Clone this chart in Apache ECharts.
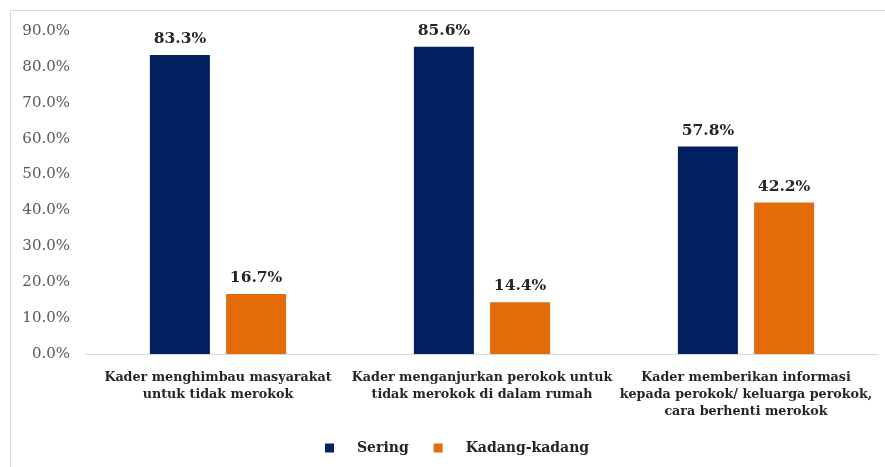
<!DOCTYPE html>
<html><head><meta charset="utf-8">
<script src="https://cdn.jsdelivr.net/npm/echarts@6/dist/echarts.min.js"></script>
<style>html,body{margin:0;padding:0;background:#fff}#c{width:885px;height:467px}</style>
</head><body><div id="c"></div>
<script>
const categories = [
  "Kader menghimbau masyarakat\nuntuk tidak merokok",
  "Kader menganjurkan perokok untuk\ntidak merokok di dalam rumah",
  "Kader memberikan informasi\nkepada perokok/ keluarga perokok,\ncara berhenti merokok"
];
const sering = [83.3, 85.6, 57.8];
const kadang = [16.7, 14.4, 42.2];
const seriesNames = ["Sering", "Kadang-kadang"];
const FONT = "DejaVu Serif";
const chart = echarts.init(document.getElementById('c'));
const lbl = {show:true, position:'top', distance:8, formatter:p=>p.value.toFixed(1)+'%', fontFamily:FONT, fontWeight:'bold', fontSize:15.5, color:'#262626'};
chart.setOption({
  animation:false,
  graphic:[{type:'rect', shape:{x:10.5,y:10.5,width:880,height:470}, style:{fill:'none', stroke:'#d9d9d9', lineWidth:1}, silent:true}],
  grid:{left:86, right:7, top:31, bottom:113},
  legend:{data:seriesNames, left:320, top:436, itemWidth:9, itemHeight:9, itemGap:25, icon:'rect',
    textStyle:{fontFamily:FONT, fontWeight:'bold', fontSize:14, color:'#262626', padding:[0,0,0,18]}},
  xAxis:{type:'category', data:categories,
    axisLine:{lineStyle:{color:'#d9d9d9'}}, axisTick:{show:false},
    axisLabel:{interval:0, margin:15, fontFamily:FONT, fontWeight:'bold', fontSize:12.7, color:'#262626', lineHeight:17}},
  yAxis:{type:'value', min:0, max:90, interval:10,
    axisLabel:{formatter:v=>v.toFixed(1)+'%', fontFamily:FONT, fontSize:15, color:'#595959', margin:16},
    splitLine:{show:false}, axisLine:{show:false}, axisTick:{show:false}},
  series:[
    {name:seriesNames[0], type:'bar', data:sering, barWidth:60, barGap:'27%', itemStyle:{color:'#002060'}, label:lbl},
    {name:seriesNames[1], type:'bar', data:kadang, barWidth:60, itemStyle:{color:'#E36C09'}, label:lbl}
  ]
});
</script></body></html>
